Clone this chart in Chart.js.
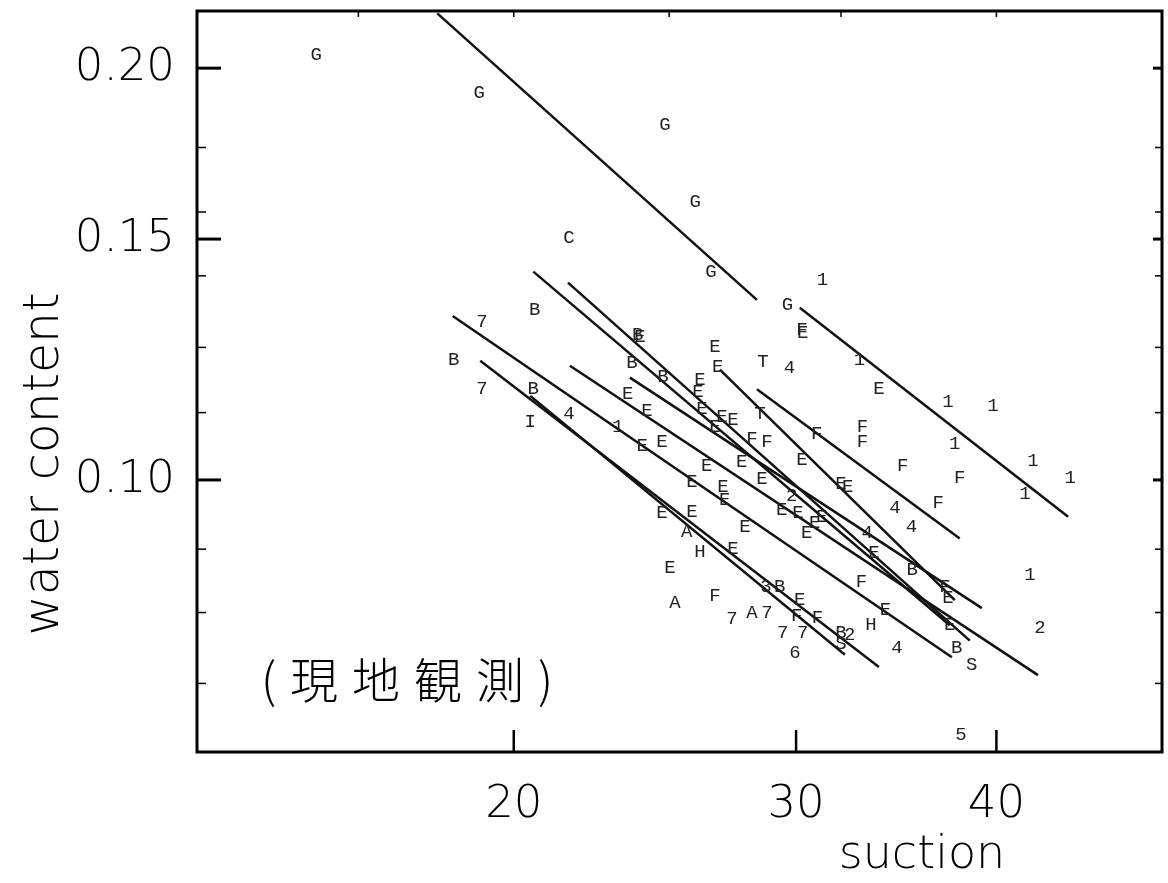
<!DOCTYPE html>
<html>
<head>
<meta charset="utf-8">
<script src="https://cdn.jsdelivr.net/npm/chart.js@4.4.1/dist/chart.umd.min.js"></script>
<style>
  body { margin: 0; background: #fff; }
  #wrap { width: 1168px; height: 883px; }
</style>
</head>
<body>
<div id="wrap"><canvas id="suctionChart"></canvas></div>
<script>
// site observations: letter code, suction, water content
var markLabels = ["G","G","G","G","G","C","G",
  "1","1","1","1","1","1","1","1","1","1",
  "2","2","2",
  "F","F","F","F","F","F","F","F","F","F","F","F","F","F",
  "4","4","4","4","4","4",
  "E","E","E","E","E","E","E","E","E","E","E","E","E","E","E","E","E","E","E","E",
  "E","E","E","E","E","E","E","E","E","E","E","E","E","E","E","E","E","E","E",
  "B","B","B","B","B","B","B","B","B","B","3","S",
  "7","7","7","7","7","7","T","T","I","H","H","A","A","A","6","5","S"];
var markSuction = [15.06,19.03,24.85,25.95,26.55,21.65,29.63,
  31.16,32.86,37.31,39.80,37.68,42.16,44.47,41.68,41.98,23.23,
  42.58,32.40,29.81,
  30.25,33.00,33.00,34.96,37.95,36.79,30.90,26.70,30.03,30.94,37.15,32.95,28.77,28.16,
  29.72,34.58,35.40,34.68,33.23,21.65,
  33.79,26.70,26.81,26.13,26.06,23.97,30.29,26.21,26.97,27.40,26.70,28.56,30.25,32.31,27.75,25.83,27.08,24.74,24.05,24.74,
  27.01,26.39,29.39,31.12,33.55,34.11,37.31,37.41,25.83,27.88,30.08,30.81,30.16,30.46,24.22,23.56,32.00,25.03,27.40,
  20.61,18.35,20.57,23.70,24.78,23.90,32.00,35.45,37.79,29.30,28.73,32.00,
  19.11,19.11,27.36,28.77,29.43,30.29,28.48,28.61,20.48,26.13,33.41,25.64,25.21,28.16,29.95,38.01,38.61];
var markWater = [0.2044,0.1918,0.1817,0.1597,0.1420,0.1503,0.1342,
  0.1401,0.1224,0.1141,0.1132,0.1062,0.1032,0.1004,0.0976,0.0852,0.1094,
  0.0779,0.0770,0.0973,
  0.1288,0.1094,0.1066,0.1023,0.1003,0.0962,0.1080,0.0823,0.0796,0.0793,0.0835,0.0842,0.1066,0.1071,
  0.1208,0.0954,0.0924,0.0754,0.0914,0.1117,
  0.1165,0.1250,0.1210,0.1184,0.1159,0.1273,0.1281,0.1126,0.1112,0.1107,0.1094,0.1001,0.1035,0.0989,0.1030,0.0996,0.0967,0.1066,0.1059,0.0946,
  0.0989,0.1023,0.0951,0.0940,0.0884,0.0803,0.0820,0.0783,0.0948,0.0924,0.0946,0.0930,0.0817,0.0914,0.1123,0.1156,0.0993,0.0862,0.0891,
  0.1331,0.1224,0.1165,0.1218,0.1190,0.1277,0.0773,0.0859,0.0754,0.0835,0.0835,0.0759,
  0.1305,0.1165,0.0792,0.0799,0.0773,0.0773,0.1117,0.1220,0.1102,0.0886,0.0783,0.0916,0.0813,0.0800,0.0747,0.0651,0.0732];

// fitted lines, [start, end]
var fitSuction = [[17.92,28.36],[30.16,44.34],[28.36,37.95],[18.32,37.52],[19.06,33.79],[20.48,32.18],
  [20.57,37.41],[21.62,38.50],[21.68,42.46],[23.63,39.17],[26.89,37.68]];
var fitWater = [[0.2193,0.1354],[0.1336,0.0940],[0.1165,0.0906],[0.1318,0.0742],[0.1222,0.0730],[0.1152,0.0745],
  [0.1420,0.0783],[0.1394,0.0763],[0.1212,0.0720],[0.1188,0.0806],[0.1204,0.0817]];

var xTicks = [20, 30, 40];
var yTicks = [0.10, 0.15, 0.20];
var xTopMinor = [16, 20, 25, 32, 40];
var yMinor = [0.071, 0.080, 0.089, 0.112, 0.125, 0.141, 0.157, 0.175];

var datasets = [{
  type: "scatter",
  data: markSuction.map(function(s, i){ return {x: s, y: markWater[i]}; }),
  pointRadius: 0
}];
fitSuction.forEach(function(s, i){
  datasets.push({
    type: "line",
    data: [{x: s[0], y: fitWater[i][0]}, {x: s[1], y: fitWater[i][1]}],
    borderColor: "#111",
    borderWidth: 2.5,
    pointRadius: 0,
    fill: false
  });
});

// letter codes drawn where the scatter points sit
var letterMarks = {
  id: "letterMarks",
  afterDatasetsDraw: function(chart){
    var ctx = chart.ctx;
    var meta = chart.getDatasetMeta(0);
    ctx.save();
    ctx.font = "19px 'Liberation Mono', monospace";
    ctx.fillStyle = "#222";
    ctx.textAlign = "center";
    ctx.textBaseline = "middle";
    meta.data.forEach(function(pt, i){
      ctx.fillText(markLabels[i], pt.x, pt.y);
    });
    ctx.restore();
  }
};

// box around the plot, inward ticks, axis names and the note
var frameAndText = {
  id: "frameAndText",
  afterDraw: function(chart){
    var ctx = chart.ctx, a = chart.chartArea;
    var xs = chart.scales.x, ys = chart.scales.y;
    function seg(x1, y1, x2, y2){ ctx.beginPath(); ctx.moveTo(x1, y1); ctx.lineTo(x2, y2); ctx.stroke(); }
    ctx.save();
    ctx.strokeStyle = "#000";
    ctx.lineWidth = 3;
    ctx.strokeRect(a.left, a.top, a.right - a.left, a.bottom - a.top);
    ctx.lineWidth = 2.5;
    xTicks.forEach(function(v){ var p = xs.getPixelForValue(v); seg(p, a.bottom, p, a.bottom - 22); });
    ctx.lineWidth = 1.5;
    xTopMinor.forEach(function(v){ var p = xs.getPixelForValue(v); seg(p, a.top, p, a.top + 6); });
    ctx.lineWidth = 3;
    yTicks.forEach(function(v){ var p = ys.getPixelForValue(v); seg(a.left, p, a.left + 24, p); seg(a.right, p, a.right - 9, p); });
    ctx.lineWidth = 1.5;
    yMinor.forEach(function(v){ var p = ys.getPixelForValue(v); seg(a.left, p, a.left + 9, p); seg(a.right, p, a.right - 7, p); });

    ctx.fillStyle = "#000";
    ctx.font = "300 46px 'DejaVu Sans', sans-serif";
    ctx.textAlign = "center";
    ctx.textBaseline = "alphabetic";
    ctx.fillText("suction", 922, 868);
    ctx.save();
    ctx.translate(58, 464);
    ctx.rotate(-Math.PI / 2);
    ctx.font = "300 49px 'DejaVu Sans', sans-serif";
    ctx.fillText("water content", 0, 0);
    ctx.restore();

    ctx.font = "300 48px 'Noto Sans CJK JP', sans-serif";
    ctx.letterSpacing = "14px";
    ctx.textBaseline = "middle";
    ctx.fillText("(現地観測)", 414, 680);
    ctx.restore();
  }
};

new Chart(document.getElementById("suctionChart"), {
  data: { datasets: datasets },
  plugins: [letterMarks, frameAndText],
  options: {
    responsive: true,
    maintainAspectRatio: false,
    animation: false,
    layout: { padding: { top: 11, right: 6, left: 0, bottom: 0 } },
    plugins: { legend: { display: false }, tooltip: { enabled: false } },
    scales: {
      x: {
        type: "logarithmic",
        min: 12.69,
        max: 50.74,
        afterBuildTicks: function(scale){ scale.ticks = xTicks.map(function(v){ return {value: v}; }); },
        afterFit: function(scale){ scale.height = 131; scale.paddingLeft = 0; scale.paddingRight = 0; },
        grid: { display: false, drawTicks: false },
        border: { display: false },
        ticks: {
          autoSkip: false,
          maxRotation: 0,
          padding: 26,
          color: "#000",
          font: { family: "'DejaVu Sans', sans-serif", size: 45, weight: "300" },
          callback: function(v){ return String(v); }
        }
      },
      y: {
        type: "logarithmic",
        min: 0.06326,
        max: 0.2202,
        afterBuildTicks: function(scale){ scale.ticks = yTicks.map(function(v){ return {value: v}; }); },
        afterFit: function(scale){ scale.width = 197; scale.paddingTop = 0; scale.paddingBottom = 0; },
        grid: { display: false, drawTicks: false },
        border: { display: false },
        ticks: {
          autoSkip: false,
          padding: 22,
          color: "#000",
          font: { family: "'DejaVu Sans', sans-serif", size: 45, weight: "300" },
          callback: function(v){ return v.toFixed(2); }
        }
      }
    }
  }
});
</script>
</body>
</html>
